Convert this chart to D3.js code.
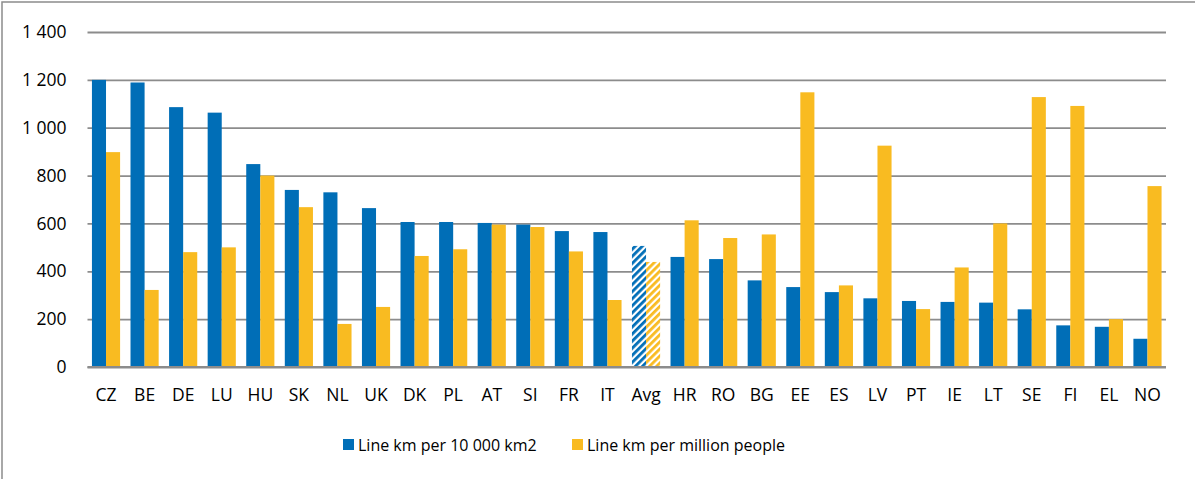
<!DOCTYPE html>
<html>
<head>
<meta charset="utf-8">
<script src="https://cdn.jsdelivr.net/npm/d3@7"></script>
<style>
  body { margin: 0; background: #fff; }
  svg { display: block; font-family: "Open Sans", sans-serif; }
</style>
</head>
<body>
<svg id="chart" width="1195" height="479"></svg>
<script>
var countries = ["CZ","BE","DE","LU","HU","SK","NL","UK","DK","PL","AT","SI","FR","IT","Avg",
  "HR","RO","BG","EE","ES","LV","PT","IE","LT","SE","FI","EL","NO"];
var perArea = [1200,1189,1086,1063,848,740,730,664,606,606,602,595,568,564,506,
  460,451,362,334,313,287,276,272,269,241,174,168,118];
var perPeople = [898,322,480,500,800,668,180,251,464,492,595,585,483,280,439,
  613,539,554,1148,341,925,242,416,600,1128,1091,200,756];
var seriesNames = ["Line km per 10 000 km2", "Line km per million people"];
var colors = ["#006eb7", "#f9bb21"];
var yTicks = [0,200,400,600,800,1000,1200,1400];

var svg = d3.select("#chart");
var margin = {top: 32, right: 29, bottom: 112, left: 87.5},
  width = 1195, height = 479;

var data = countries.map(function(c, i) {
  return {name: c, values: [perArea[i], perPeople[i]]};
});

// outer frame, right/bottom edges fall outside the picture
svg.append("rect")
  .attr("x", 2).attr("y", 2)
  .attr("width", width + 10).attr("height", height + 10)
  .attr("fill", "none").attr("stroke", "#8c8c8c").attr("stroke-width", 1.5);

var defs = svg.append("defs");
colors.forEach(function(col, i) {
  var p = defs.append("pattern")
    .attr("id", "hatch" + i)
    .attr("patternUnits", "userSpaceOnUse")
    .attr("width", 5).attr("height", 5)
    .attr("patternTransform", "rotate(45)");
  p.append("rect").attr("width", 5).attr("height", 5).attr("fill", "#fff");
  p.append("rect").attr("width", 2.8).attr("height", 5).attr("fill", col);
});

var x0 = d3.scaleBand()
  .domain(countries)
  .range([margin.left, width - margin.right])
  .paddingInner(0.27)
  .paddingOuter(0.115);

var x1 = d3.scaleBand()
  .domain([0, 1])
  .range([0, x0.bandwidth()]);

var y = d3.scaleLinear()
  .domain([0, 1400])
  .range([height - margin.bottom, margin.top]);

// grid + y labels
svg.append("g")
  .attr("transform", "translate(" + margin.left + ",0)")
  .call(d3.axisLeft(y).tickValues(yTicks)
    .tickSize(-(width - margin.right - margin.left))
    .tickPadding(21)
    .tickFormat(function(d) { return d3.format(",")(d).replace(",", " "); }))
  .call(function(g) { g.select(".domain").remove(); })
  .call(function(g) {
    g.selectAll(".tick line").attr("stroke", "#8c8c8c").attr("stroke-width", 1.8);
    g.selectAll(".tick text").attr("fill", "#000").attr("font-size", 17.5)
      .attr("font-family", "Open Sans, sans-serif");
  });

// bars
var groups = svg.append("g").selectAll("g").data(data).enter().append("g")
  .attr("transform", function(d) { return "translate(" + x0(d.name) + ",0)"; });

groups.selectAll("rect")
  .data(function(d) { return d.values.map(function(v, i) { return {v: v, i: i, avg: d.name == "Avg"}; }); })
  .enter().append("rect")
    .attr("x", function(d) { return x1(d.i); })
    .attr("y", function(d) { return y(d.v); })
    .attr("width", x1.bandwidth())
    .attr("height", function(d) { return y(0) - y(d.v); })
    .attr("fill", function(d) { return d.avg ? "url(#hatch" + d.i + ")" : colors[d.i]; });

// x axis
svg.append("g")
  .attr("transform", "translate(0," + y(0) + ")")
  .call(d3.axisBottom(x0).tickSize(0).tickPadding(21.5))
  .call(function(g) {
    g.select(".domain").attr("stroke", "#8c8c8c").attr("stroke-width", 1.8)
      .attr("d", "M" + margin.left + ",0H" + (width - margin.right));
    g.selectAll(".tick text").attr("fill", "#000").attr("font-size", 17.5)
      .attr("font-family", "Open Sans, sans-serif");
  });

// legend
var legendX = [343, 572];
var legend = svg.append("g").selectAll("g").data(seriesNames).enter().append("g")
  .attr("transform", function(d, i) { return "translate(" + legendX[i] + ",439)"; });
legend.append("rect")
  .attr("width", 11).attr("height", 11)
  .attr("fill", function(d, i) { return colors[i]; });
legend.append("text")
  .attr("x", 15).attr("y", 6).attr("dy", "0.35em")
  .attr("font-size", 16).attr("fill", "#000")
  .text(function(d) { return d; });
</script>
</body>
</html>
